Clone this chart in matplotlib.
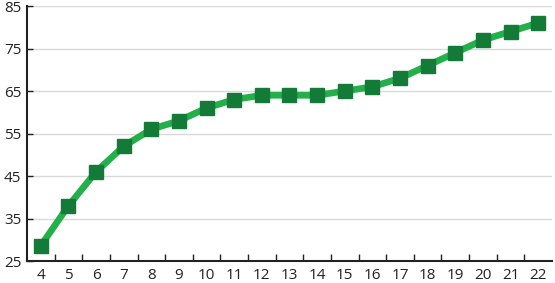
import matplotlib.pyplot as plt
import numpy as np

# data
ages = np.arange(4, 23)
values = [28.6, 38, 46, 52, 56, 58, 61, 63, 64, 64, 64, 65, 66, 68, 71, 74, 77, 79, 81]
yticks = [25, 35, 45, 55, 65, 75, 85]

plt.rcParams['font.family'] = ['Open Sans', 'DejaVu Sans']

fig = plt.figure(figsize=(5.55, 2.83), dpi=100)
ax = fig.add_axes([0.0486, 0.0777, 0.946, 0.901])

ax.plot(ages, values, color='#23b04a', lw=4.8, marker='s', ms=9.5,
        mfc='#137a38', mec='#137a38', zorder=3)

ax.set_xlim(3.5, 22.5)
ax.set_ylim(25, 85)
ax.set_yticks(yticks)
ax.set_xticks(ages)
ax.set_xticks(np.arange(4.5, 22.5, 1), minor=True)

ax.grid(axis='y', color='#d9d9d9', lw=1)
ax.set_axisbelow(True)
for s in ['top', 'right']:
    ax.spines[s].set_visible(False)
for s in ['left', 'bottom']:
    ax.spines[s].set_linewidth(1.5)
    ax.spines[s].set_color('#222222')

ax.tick_params(axis='x', which='major', length=0, labelsize=11, pad=5, colors='#222222')
ax.tick_params(axis='x', which='minor', direction='in', length=5, width=1, color='#222222')
ax.tick_params(axis='y', direction='in', length=4, width=1, labelsize=11, pad=4, colors='#222222')

plt.savefig('out.png', dpi=100)
